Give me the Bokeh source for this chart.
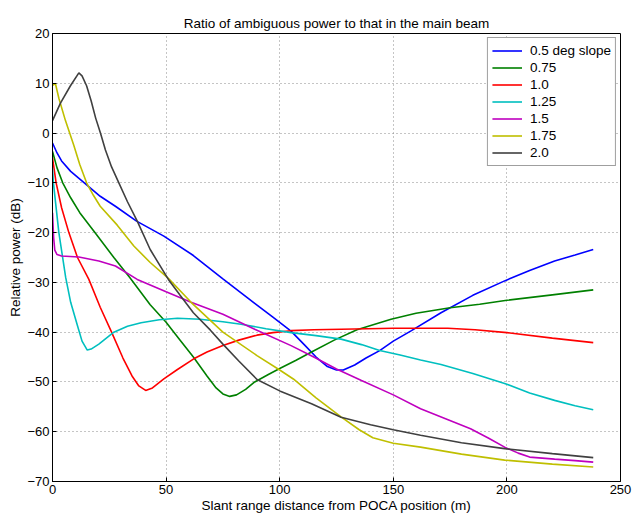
from bokeh.plotting import figure
from bokeh.models import FixedTicker, Range1d, Legend, LegendItem
from bokeh.embed import file_html
from bokeh.resources import INLINE

TITLE = "Ratio of ambiguous power to that in the main beam"
XLABEL = "Slant range distance from POCA position (m)"
YLABEL = "Relative power (dB)"
x_ticks = [0, 50, 100, 150, 200, 250]
y_ticks = [-70, -60, -50, -40, -30, -20, -10, 0, 10, 20]
labels = ["0.5 deg slope", "0.75", "1.0", "1.25", "1.5", "1.75", "2.0"]
colors = ["#0000FF", "#008000", "#FF0000", "#00BFBF", "#BF00BF", "#BFBF00", "#404040"]

blue_x = [0, 2, 4, 8, 14, 21, 28, 37, 49, 62, 75, 83, 89, 97, 105, 111, 116, 121, 125, 128, 133, 138, 144, 150, 158, 171, 185, 199, 210, 221, 230, 238]
blue_y = [-2, -4, -5.6, -7.7, -10, -12.7, -14.8, -17.7, -20.7, -24.6, -29.3, -32.1, -34.2, -37.0, -39.8, -42.6, -45, -46.9, -47.6, -47.6, -46.6, -45.2, -43.7, -41.8, -39.7, -36.1, -32.6, -29.7, -27.6, -25.7, -24.5, -23.4]

green_x = [0, 2, 4.5, 8, 12, 19, 27, 34, 43, 50, 56, 62, 68, 72, 75, 78, 81, 85, 89, 95, 100, 107, 114, 124, 134, 149, 160, 175, 188, 200, 220, 238]
green_y = [-3.7, -7, -10, -13, -16, -20.2, -25, -29, -34.5, -38, -41.5, -45, -48.8, -51.2, -52.4, -52.9, -52.6, -51.5, -50, -48.5, -47.3, -45.7, -44, -41.6, -39.5, -37.4, -36.2, -35.1, -34.4, -33.6, -32.5, -31.5]

red_x = [0, 1.6, 4, 7.2, 11, 16, 21, 26, 31, 35, 38, 41, 44, 49, 55, 62, 68, 75, 82, 90, 97, 105, 115, 127, 150, 174, 186, 200, 220, 238]
red_y = [-5, -10, -15, -20, -25, -29.4, -35, -40, -45.2, -48.8, -50.8, -51.7, -51.2, -49.4, -47.5, -45.4, -44, -42.7, -41.6, -40.6, -40.1, -39.7, -39.5, -39.4, -39.2, -39.2, -39.5, -40.1, -41.2, -42.1]

cyan_x = [0, 0.4, 2.8, 5.8, 8, 11, 13, 15.3, 17, 20.4, 27, 33, 39, 47, 55, 65, 75, 83, 94, 105, 116, 127, 136, 144, 153, 162, 171, 185, 199, 210, 221, 230, 238]
cyan_y = [-7, -10, -20, -29, -34, -38.7, -41.8, -43.6, -43.4, -42.4, -40, -38.8, -38.1, -37.5, -37.2, -37.4, -37.9, -38.4, -39.3, -40.1, -40.7, -41.4, -42.5, -43.7, -44.6, -45.6, -46.5, -48.3, -50.3, -52.2, -53.7, -54.8, -55.6]

magenta_x = [0, 0.5, 1, 2, 4, 11.6, 20.4, 27.7, 37.3, 50, 61, 75, 89, 105, 115, 125, 136, 150, 162, 173, 184, 192, 199, 205, 210, 221, 230, 238]
magenta_y = [-16, -21, -23.5, -24.4, -24.7, -24.9, -25.7, -26.7, -29.4, -31.9, -34, -36.4, -39.4, -42.7, -45, -47.4, -49.7, -52.6, -55.4, -57.4, -59.4, -61.3, -63.1, -64.3, -65.1, -65.5, -65.8, -66.1]

yellow_x = [0, 1.3, 2.8, 5.7, 9.4, 12, 15, 18, 21, 28.5, 35.8, 43, 51, 61, 75, 90, 100, 106, 116, 127, 135, 141, 150, 162, 180, 199, 220, 238]
yellow_y = [9.6, 9.9, 7, 2.5, -2.5, -6.3, -10, -12.5, -14.7, -18.5, -22.7, -26, -29.2, -34, -40, -44.7, -47.6, -49.4, -53.2, -57, -59.6, -61.2, -62.3, -63.1, -64.5, -65.7, -66.5, -67.1]

black_x = [0, 3.5, 7.9, 11.6, 13, 15, 17, 19, 21.1, 23.3, 26, 29.2, 33, 37.3, 43, 51, 56, 62, 69.5, 75, 82, 90, 100, 114, 127, 140, 150, 162, 180, 199, 220, 238]
black_y = [2.5, 6, 9.5, 12.1, 11.5, 9.5, 6.5, 3, 0, -3.4, -6.8, -10, -13.8, -17.7, -23.4, -29.4, -32.5, -36.1, -39.6, -42.4, -45.8, -49.5, -51.8, -54.4, -57.1, -58.6, -59.6, -60.7, -62.2, -63.4, -64.4, -65.2]

series = [(blue_x, blue_y), (green_x, green_y), (red_x, red_y), (cyan_x, cyan_y),
          (magenta_x, magenta_y), (yellow_x, yellow_y), (black_x, black_y)]

FONT = "Liberation Sans"

p = figure(width=632, height=515, x_range=Range1d(0, 250), y_range=Range1d(-70, 20),
           output_backend="svg", toolbar_location=None,
           min_border_left=52, min_border_right=12, min_border_top=33, min_border_bottom=32,
           title=TITLE)
p.background_fill_color = "white"
p.border_fill_color = "white"
p.outline_line_color = "black"
p.outline_line_width = 1

p.title.text_font = FONT
p.title.text_font_size = "13.5px"
p.title.text_font_style = "normal"
p.title.align = "center"
p.title.text_color = "black"
p.title.standoff = 6

for ax, ticks in ((p.xaxis[0], x_ticks), (p.yaxis[0], y_ticks)):
    ax.ticker = FixedTicker(ticks=ticks)
    ax.major_label_text_font = FONT
    ax.major_label_text_font_size = "13px"
    ax.major_label_text_color = "black"
    ax.axis_label_text_font = FONT
    ax.axis_label_text_font_size = "13.5px"
    ax.axis_label_text_font_style = "normal"
    ax.axis_label_text_color = "black"
    ax.major_tick_in = 4
    ax.major_tick_out = 0
    ax.minor_tick_line_color = None
    ax.axis_line_color = "black"
    ax.major_tick_line_color = "black"
    ax.major_label_standoff = 3
    ax.axis_label_standoff = 1

p.xaxis.axis_label = XLABEL
p.yaxis.axis_label = YLABEL

p.xgrid.ticker = FixedTicker(ticks=x_ticks)
p.ygrid.ticker = FixedTicker(ticks=y_ticks)
for g in (p.xgrid[0], p.ygrid[0]):
    g.grid_line_color = "#8a8a8a"
    g.grid_line_dash = "1 3"
    g.grid_line_width = 1

items = []
for (xs, ys), c, lab in zip(series, colors, labels):
    r = p.line(xs, ys, line_color=c, line_width=1.6)
    items.append(LegendItem(label=lab, renderers=[r]))

legend = Legend(items=items, location="top_right")
legend.label_text_font = FONT
legend.label_text_font_size = "13.5px"
legend.label_text_color = "black"
legend.glyph_width = 30
legend.glyph_height = 17
legend.label_height = 17
legend.label_standoff = 8
legend.spacing = 0
legend.padding = 4
legend.margin = 4
legend.border_line_color = "#404040"
legend.border_line_width = 1
legend.background_fill_color = "white"
legend.background_fill_alpha = 1
p.add_layout(legend)

open("out.html", "w").write(file_html(p, INLINE))
